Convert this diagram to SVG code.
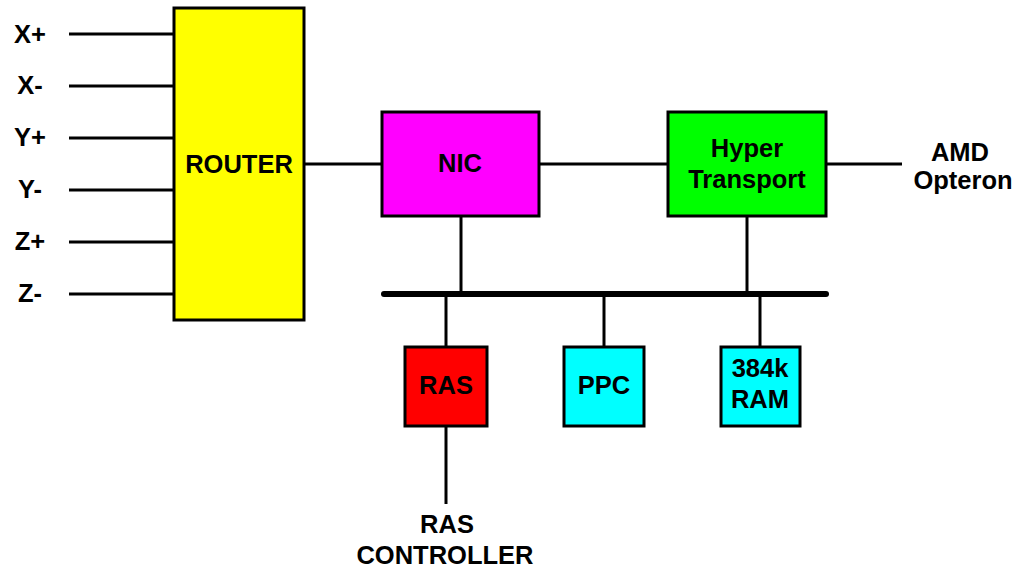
<svg xmlns="http://www.w3.org/2000/svg" width="1022" height="568" viewBox="0 0 1022 568">
<style>
.box{stroke:#000;stroke-width:3}
.ln{stroke:#000;stroke-width:3;fill:none}
.bus{stroke:#000;stroke-width:6;stroke-linecap:round;fill:none}
text{font-family:"Liberation Sans",Arial,sans-serif;font-weight:bold;font-size:25.5px;fill:#000;text-anchor:middle}
</style>
<rect width="1022" height="568" fill="#fff"/>
<g id="connectors">
<line class="ln" x1="69" y1="34" x2="174" y2="34"/>
<line class="ln" x1="69" y1="86" x2="174" y2="86"/>
<line class="ln" x1="69" y1="138" x2="174" y2="138"/>
<line class="ln" x1="69" y1="190" x2="174" y2="190"/>
<line class="ln" x1="69" y1="242" x2="174" y2="242"/>
<line class="ln" x1="69" y1="294" x2="174" y2="294"/>
<line class="ln" x1="304" y1="164" x2="382" y2="164"/>
<line class="ln" x1="539" y1="164" x2="668" y2="164"/>
<line class="ln" x1="826" y1="164" x2="902" y2="164"/>
<line class="ln" x1="461" y1="216" x2="461" y2="294"/>
<line class="ln" x1="747" y1="216" x2="747" y2="294"/>
<line class="bus" x1="384" y1="294" x2="826" y2="294"/>
<line class="ln" x1="446" y1="294" x2="446" y2="347"/>
<line class="ln" x1="604" y1="294" x2="604" y2="347"/>
<line class="ln" x1="760" y1="294" x2="760" y2="347"/>
<line class="ln" x1="446" y1="426" x2="446" y2="504"/>
</g>
<g id="labels">
<text x="30" y="43">X+</text>
<text x="30" y="94">X-</text>
<text x="30" y="146">Y+</text>
<text x="30" y="198">Y-</text>
<text x="30" y="250">Z+</text>
<text x="30" y="302">Z-</text>
<text x="960" y="161">AMD</text>
<text x="963" y="189">Opteron</text>
<text x="447" y="533">RAS</text>
<text x="445" y="564">CONTROLLER</text>
</g>
<g id="router">
<rect class="box" x="174" y="8" width="130" height="312" fill="#ffff00"/>
<text x="239" y="173">ROUTER</text>
</g>
<g id="nic">
<rect class="box" x="382" y="112" width="157" height="104" fill="#ff00ff"/>
<text x="460" y="172">NIC</text>
</g>
<g id="hypertransport">
<rect class="box" x="668" y="112" width="158" height="104" fill="#00ff00"/>
<text x="747" y="157">Hyper</text>
<text x="747" y="188">Transport</text>
</g>
<g id="ras">
<rect class="box" x="405" y="347" width="82" height="79" fill="#ff0000"/>
<text x="446" y="394">RAS</text>
</g>
<g id="ppc">
<rect class="box" x="564" y="347" width="80" height="79" fill="#00ffff"/>
<text x="604" y="394">PPC</text>
</g>
<g id="ram">
<rect class="box" x="721" y="347" width="79" height="79" fill="#00ffff"/>
<text x="760" y="377">384k</text>
<text x="760" y="408">RAM</text>
</g>
</svg>
